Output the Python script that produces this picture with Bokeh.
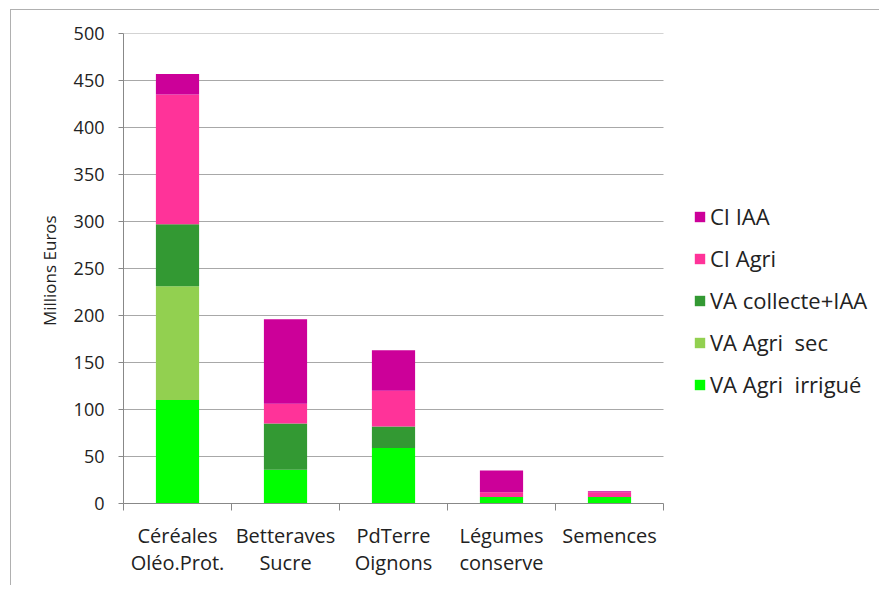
import numpy as np
from bokeh.plotting import figure
from bokeh.models import ColumnDataSource, FixedTicker, Legend, LegendItem, Range1d
from bokeh.embed import file_html
from bokeh.resources import INLINE

categories = ["Céréales\nOléo.Prot.", "Betteraves\nSucre", "PdTerre\nOignons", "Légumes\nconserve", "Semences"]
series_names = ["VA Agri  irrigué", "VA Agri  sec", "VA collecte+IAA", "CI Agri", "CI IAA"]
va_irrigue = [110, 36, 59, 7, 7]
va_sec = [121, 0, 0, 0, 0]
va_collecte = [66, 49, 23, 0, 0]
ci_agri = [138, 21, 38, 5, 5]
ci_iaa = [22, 90, 43, 23, 1]
colors = ["#00FF00", "#92D050", "#339933", "#FF3399", "#CC0099"]
y_ticks = list(range(0, 501, 50))

FONT = "Open Sans"
N = len(categories)
FRAME_W = 754          # full frame width (includes legend area)
BAR_AREA_W = 540       # width of the bar area in pixels
x_end = N * FRAME_W / BAR_AREA_W

keys = ["s0", "s1", "s2", "s3", "s4"]
xpos = np.arange(N) + 0.5
src = ColumnDataSource(dict(x=xpos, s0=va_irrigue, s1=va_sec, s2=va_collecte, s3=ci_agri, s4=ci_iaa))

p = figure(frame_width=FRAME_W, frame_height=470, output_backend="svg", toolbar_location=None,
           x_range=Range1d(0, x_end), y_range=Range1d(0, 500),
           min_border_left=112, min_border_right=2, min_border_top=23, min_border_bottom=82)
p.outline_line_color = None
p.background_fill_color = "white"
p.border_fill_color = "white"
p.styles = {"border-left": "1px solid #b0b0b0", "border-top": "1px solid #b0b0b0",
            "margin-left": "10px", "margin-top": "9px"}

# horizontal grid lines limited to the bar area
gy = y_ticks[1:]
p.segment(x0=[0] * len(gy), x1=[N] * len(gy), y0=gy, y1=gy, line_color="#a8a8a8", line_width=1)

renderers = p.vbar_stack(keys, x="x", width=0.4, source=src, color=colors, line_color=None)

# axes
p.xaxis.bounds = (0, N)
p.xaxis.ticker = FixedTicker(ticks=list(xpos), minor_ticks=list(range(N + 1)))
p.xaxis.major_label_overrides = {float(x): c for x, c in zip(xpos, categories)}
p.xaxis.major_tick_line_color = None
p.xaxis.major_tick_out = 0
p.xaxis.major_tick_in = 0
p.xaxis.minor_tick_line_color = "#888888"
p.xaxis.minor_tick_out = 7
p.xaxis.minor_tick_in = 0
p.xaxis.axis_line_color = "#888888"
p.xaxis.major_label_text_font = FONT
p.xaxis.major_label_text_font_size = "20px"
p.xaxis.major_label_text_color = "#222222"
p.xaxis.major_label_text_line_height = 1.03
p.xaxis.major_label_standoff = 11

p.yaxis.ticker = FixedTicker(ticks=y_ticks)
p.yaxis.minor_tick_line_color = None
p.yaxis.major_tick_line_color = "#888888"
p.yaxis.major_tick_out = 5
p.yaxis.major_tick_in = 0
p.yaxis.axis_line_color = "#888888"
p.yaxis.major_label_text_font = FONT
p.yaxis.major_label_text_font_size = "18px"
p.yaxis.major_label_text_color = "#222222"
p.yaxis.major_label_standoff = 14
p.yaxis.axis_label = "Millions  Euros"
p.yaxis.axis_label_text_font = FONT
p.yaxis.axis_label_text_font_size = "17px"
p.yaxis.axis_label_text_font_style = "normal"
p.yaxis.axis_label_text_color = "#222222"
p.yaxis.axis_label_standoff = 10

p.xgrid.grid_line_color = None
p.ygrid.grid_line_color = None

items = [LegendItem(label=n, renderers=[r]) for n, r in zip(series_names, renderers)][::-1]
legend = Legend(items=items, location=(570, 104), glyph_width=13, glyph_height=13,
                label_height=30, spacing=12, padding=0, margin=0, label_standoff=4,
                label_text_font=FONT, label_text_font_size="22px", label_text_color="#222222",
                border_line_color=None, background_fill_alpha=0)
p.add_layout(legend, "center")

open("out.html", "w").write(file_html(p, INLINE))
